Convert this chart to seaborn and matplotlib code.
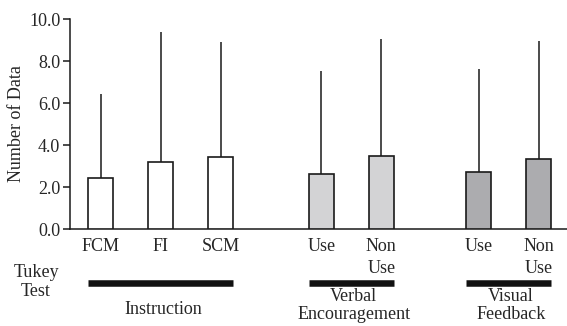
import numpy as np
import pandas as pd
import matplotlib
matplotlib.use("Agg")
import matplotlib.pyplot as plt
import matplotlib.transforms as mtransforms
import seaborn as sns

# ---- data ----
groups = ["Instruction", "Verbal\nEncouragement", "Visual\nFeedback"]
conditions = [["FCM", "FI", "SCM"], ["Use", "Non\nUse"], ["Use", "Non\nUse"]]
means = [2.41, 3.20, 3.45, 2.62, 3.47, 2.72, 3.34]
upper_sd = [4.00, 6.20, 5.45, 4.92, 5.56, 4.90, 5.61]
yticks = [0.0, 2.0, 4.0, 6.0, 8.0, 10.0]
group_colors = ["#ffffff", "#d3d3d5", "#acacaf"]

# ---- layout ----
group_starts = [0.0, 3.677, 6.30]
bar_width = 0.417
FS = 13

sns.set_theme(style="white")
plt.rcParams["font.family"] = ["Liberation Serif", "DejaVu Serif"]

rows = []
for g, (gname, conds) in enumerate(zip(groups, conditions)):
    for j, c in enumerate(conds):
        rows.append({"group": gname, "cond": c, "pos": group_starts[g] + j})
df = pd.DataFrame(rows)
df["mean"] = means
df["sd"] = upper_sd

fig = plt.figure(figsize=(5.67, 3.26), dpi=100)
ax = fig.add_axes([70 / 567, 1 - 229 / 326, 1 - 70 / 567, (229 - 19) / 326])

sns.barplot(data=df, x="pos", y="mean", hue="group", palette=group_colors,
            native_scale=True, width=bar_width, errorbar=None, legend=False,
            edgecolor="#1a1a1a", linewidth=1.2, ax=ax, zorder=3)

ax.errorbar(df["pos"], df["mean"], yerr=[np.zeros(len(df)), df["sd"]],
            fmt="none", ecolor="#1a1a1a", elinewidth=1.1, capsize=0, zorder=2)

ax.set_xlim(-0.512, 7.772)
ax.set_ylim(0, 10)
ax.set_yticks(yticks)
ax.set_yticklabels([f"{v:.1f}" for v in yticks], fontsize=FS)
ax.set_xticks(df["pos"])
ax.set_xticklabels(df["cond"], fontsize=FS, linespacing=1.4)
ax.tick_params(axis="x", length=0, pad=6.5)
ax.tick_params(axis="y", left=True, length=5, width=1.1, color="#1a1a1a", pad=2)
ax.set_xlabel("")
ax.set_ylabel("Number of Data", fontsize=FS, labelpad=3)
for s in ["top", "right"]:
    ax.spines[s].set_visible(False)
for s in ["left", "bottom"]:
    ax.spines[s].set_color("#1a1a1a")
    ax.spines[s].set_linewidth(1.1)

# Tukey test lines and group labels
trans = mtransforms.blended_transform_factory(ax.transData, fig.transFigure)
line_y = 1 - 283 / 326
for gname, grp in df.groupby("group", sort=False):
    x0 = grp["pos"].min() - bar_width / 2
    x1 = grp["pos"].max() + bar_width / 2
    y = 309 if "\n" not in gname else 305.5
    ax.text((x0 + x1) / 2 + 0.04, 1 - y / 326, gname, transform=trans,
            ha="center", va="center", fontsize=FS, linespacing=1.13)
    ax.plot([x0, x1], [line_y, line_y], transform=trans, color="#111111",
            lw=4.7, solid_capstyle="butt", clip_on=False)

fig.text(36 / 567, 1 - 282 / 326, "Tukey\nTest", ha="center", va="center",
         fontsize=FS, linespacing=1.2)

fig.savefig("out.png", dpi=100)
